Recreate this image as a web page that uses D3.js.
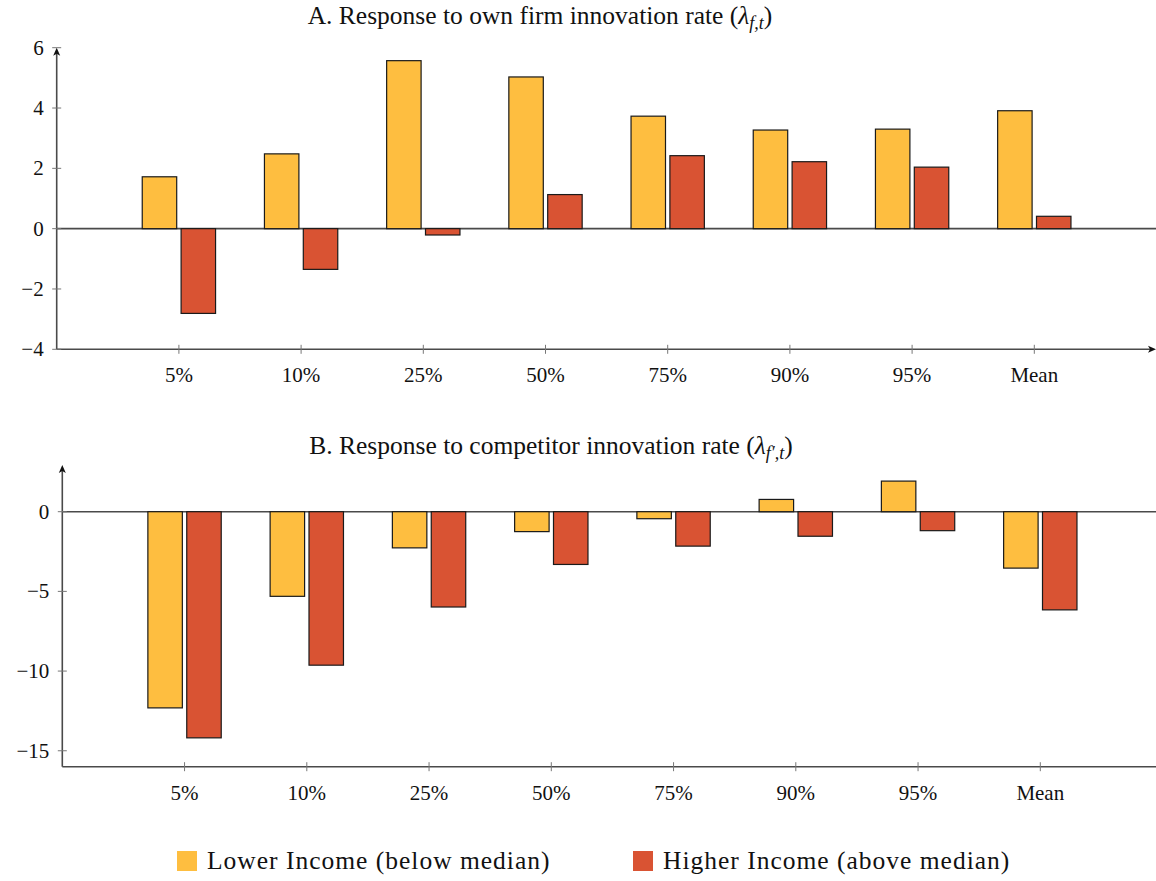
<!DOCTYPE html>
<html>
<head>
<meta charset="utf-8">
<script src="https://cdn.jsdelivr.net/npm/d3@7"></script>
<style>
  html, body { margin: 0; padding: 0; background: #fff; }
  svg { display: block; }
</style>
</head>
<body>
<svg id="chart" width="1156" height="881"></svg>
<script>
// ---- data ----
const categories = ["5%", "10%", "25%", "50%", "75%", "90%", "95%", "Mean"];
const seriesNames = ["Lower Income (below median)", "Higher Income (above median)"];
const colors = ["#FEBE40", "#D95333"];

// Panel A: response to own firm innovation rate
const ownLower  = [1.72, 2.48, 5.57, 5.03, 3.73, 3.27, 3.30, 3.91];
const ownHigher = [-2.81, -1.35, -0.21, 1.13, 2.42, 2.22, 2.04, 0.41];

// Panel B: response to competitor innovation rate
const compLower  = [-12.31, -5.31, -2.27, -1.25, -0.44, 0.77, 1.92, -3.54];
const compHigher = [-14.19, -9.63, -5.98, -3.31, -2.16, -1.54, -1.19, -6.16];

const ticksA = [-4, -2, 0, 2, 4, 6];
const ticksB = [-15, -10, -5, 0];

const FONT = "'Liberation Serif', 'Times New Roman', Times, serif";
const svg = d3.select("#chart");
const fmt = v => (v < 0 ? "\u2212" + Math.abs(v) : String(v));

function panel(cfg) {
  const g = svg.append("g").attr("font-family", FONT).attr("fill", "#111");
  const x = d3.scaleLinear().domain([0, categories.length + 1]).range([cfg.x0, cfg.x1]);
  const y = d3.scaleLinear().domain(cfg.yDomain).range([cfg.yBottom, cfg.yTop]);

  // zero line
  g.append("line")
    .attr("x1", cfg.x0).attr("x2", 1160)
    .attr("y1", y(0)).attr("y2", y(0))
    .attr("stroke", "#4a4a4a").attr("stroke-width", 1.6);

  // bars
  const bw = x(0.282) - x(0);
  const gap = x(0.036) - x(0);
  [cfg.lower, cfg.higher].forEach((vals, s) => {
    g.selectAll(null).data(vals).enter().append("rect")
      .attr("x", (d, i) => s === 0 ? x(i + 1) - gap / 2 - bw : x(i + 1) + gap / 2)
      .attr("width", bw)
      .attr("y", d => Math.min(y(d), y(0)))
      .attr("height", d => Math.abs(y(d) - y(0)))
      .attr("fill", colors[s])
      .attr("stroke", "#1a1a1a").attr("stroke-width", 1.2);
  });

  // x axis line
  g.append("line")
    .attr("x1", cfg.x0).attr("x2", cfg.xArrow ? 1153 : 1160)
    .attr("y1", cfg.yBottom).attr("y2", cfg.yBottom)
    .attr("stroke", "#4a4a4a").attr("stroke-width", 1.6);
  if (cfg.xArrow) {
    const ay = cfg.yBottom;
    g.append("path")
      .attr("d", `M1156,${ay} L1148,${ay - 3.5} L1150,${ay} L1148,${ay + 3.5} Z`)
      .attr("fill", "#111");
  }
  // y axis line with arrow
  g.append("line")
    .attr("x1", cfg.x0).attr("x2", cfg.x0)
    .attr("y1", cfg.yBottom).attr("y2", y(cfg.yDomain[1]) + 3)
    .attr("stroke", "#4a4a4a").attr("stroke-width", 1.6);
  const ax = cfg.x0, at = y(cfg.yDomain[1]);
  g.append("path")
    .attr("d", `M${ax},${at} L${ax - 3.5},${at + 8} L${ax},${at + 6} L${ax + 3.5},${at + 8} Z`)
    .attr("fill", "#111");

  // y ticks
  const yt = g.selectAll(null).data(cfg.ticks).enter().append("g");
  yt.append("line")
    .attr("x1", cfg.x0 - 4.5).attr("x2", cfg.x0 + 4.5)
    .attr("y1", d => y(d)).attr("y2", d => y(d))
    .attr("stroke", "#777").attr("stroke-width", 1);
  yt.append("text")
    .attr("x", cfg.x0 - 13)
    .attr("y", d => y(d) + 7)
    .attr("text-anchor", "end")
    .attr("font-size", 21)
    .text(fmt);

  // x ticks
  const xt = g.selectAll(null).data(categories).enter().append("g");
  xt.append("line")
    .attr("x1", (d, i) => x(i + 1)).attr("x2", (d, i) => x(i + 1))
    .attr("y1", cfg.yBottom - 4.5).attr("y2", cfg.yBottom + 4.5)
    .attr("stroke", "#777").attr("stroke-width", 1);
  xt.append("text")
    .attr("x", (d, i) => x(i + 1))
    .attr("y", cfg.yBottom + 33)
    .attr("text-anchor", "middle")
    .attr("font-size", 21)
    .text(d => d);

  // title
  const t = g.append("text")
    .attr("x", cfg.titleX).attr("y", cfg.titleY)
    .attr("text-anchor", "middle")
    .attr("font-size", 25.5);
  t.append("tspan").text(cfg.title + " (");
  t.append("tspan").attr("font-style", "italic").text("\u03bb");
  t.append("tspan").attr("font-style", "italic").attr("font-size", 18).attr("dy", 5).text(cfg.sub);
  t.append("tspan").attr("dy", -5).text(")");
}

panel({
  x0: 56.7, x1: 56.7 + 9 * 122.2,
  yDomain: [-4, 6], yBottom: 349.3, yTop: 47.7,
  lower: ownLower, higher: ownHigher, ticks: ticksA, xArrow: true,
  title: "A. Response to own firm innovation rate", sub: "f,t",
  titleX: 540, titleY: 24
});

panel({
  x0: 62.3, x1: 62.3 + 9 * 122.25,
  yDomain: [-16, 2.93], yBottom: 766.7, yTop: 465,
  lower: compLower, higher: compHigher, ticks: ticksB, xArrow: false,
  title: "B. Response to competitor innovation rate", sub: "f\u2032,t",
  titleX: 551, titleY: 454
});

// legend
const legendX = [177, 633];
const lg = svg.append("g").attr("font-family", FONT).attr("fill", "#111");
seriesNames.forEach((name, s) => {
  lg.append("rect")
    .attr("x", legendX[s]).attr("y", 851)
    .attr("width", 20).attr("height", 20)
    .attr("fill", colors[s]);
  lg.append("text")
    .attr("x", legendX[s] + 30).attr("y", 869)
    .attr("font-size", 25.5)
    .attr("letter-spacing", 1.0)
    .text(name);
});
</script>
</body>
</html>
